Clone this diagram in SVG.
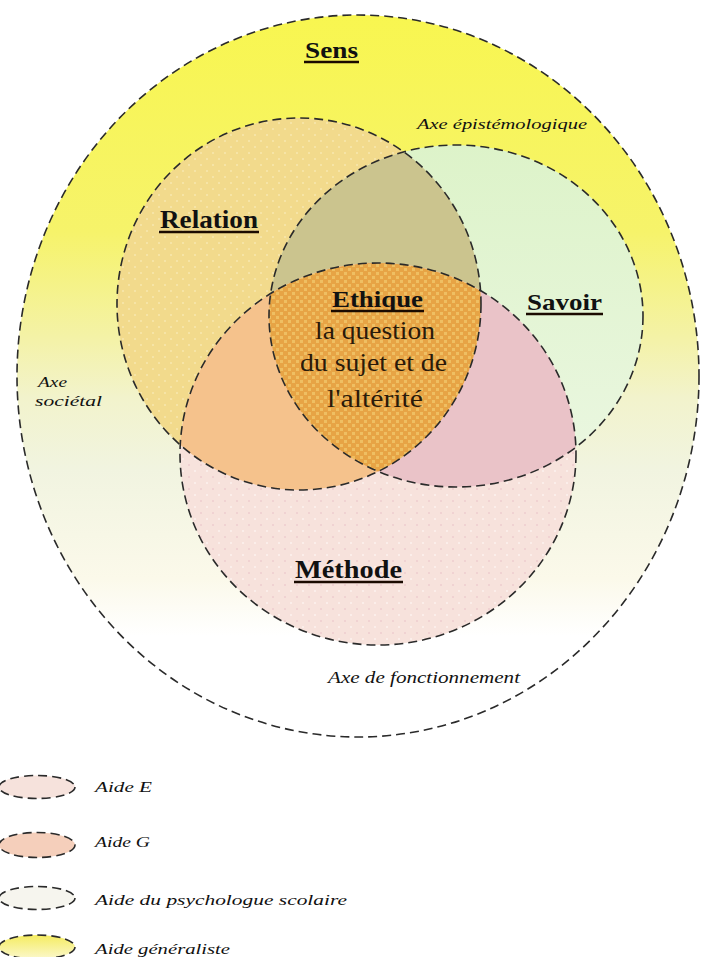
<svg xmlns="http://www.w3.org/2000/svg" width="702" height="957" viewBox="0 0 702 957">
<style>
  .ring{fill:none;stroke:#2a2a2a;stroke-width:1.6;stroke-dasharray:9 5}
  .lbl{font-weight:bold;fill:#111}
  .eth{fill:#2a1a0a}
  .axe{font-style:italic;fill:#111}
  .ul{stroke:#1a0a00;stroke-width:2.6}
</style>
<defs>
  <linearGradient id="gOuter" x1="0" y1="15" x2="0" y2="737" gradientUnits="userSpaceOnUse">
    <stop offset="0" stop-color="#f8f650"/>
    <stop offset="0.3" stop-color="#f6f36a"/>
    <stop offset="0.45" stop-color="#f4f2a8"/>
    <stop offset="0.53" stop-color="#f2f3cc"/>
    <stop offset="0.63" stop-color="#f1f4e0"/>
    <stop offset="0.78" stop-color="#fbf9ea"/>
    <stop offset="0.86" stop-color="#ffffff"/>
    <stop offset="1" stop-color="#ffffff"/>
  </linearGradient>
  <linearGradient id="gSavoir" x1="0" y1="145" x2="0" y2="487" gradientUnits="userSpaceOnUse">
    <stop offset="0" stop-color="#ddf3c9"/>
    <stop offset="1" stop-color="#ebf7e2"/>
  </linearGradient>
  <linearGradient id="gLegY" x1="0" y1="935" x2="0" y2="959" gradientUnits="userSpaceOnUse">
    <stop offset="0" stop-color="#f5ec60"/>
    <stop offset="1" stop-color="#fbf8cc"/>
  </linearGradient>
  <pattern id="pEth" width="8" height="8" patternUnits="userSpaceOnUse">
    <rect width="8" height="8" fill="#e7a445"/>
    <rect x="0" y="0" width="3" height="3" fill="#efbf62"/>
    <rect x="4" y="4" width="3" height="3" fill="#efbf62"/>
  </pattern>
  <pattern id="pRel" width="12" height="12" patternUnits="userSpaceOnUse">
    <rect width="12" height="12" fill="#f2da8c"/>
    <rect x="2" y="2" width="2" height="2" fill="#f6e4a6"/>
    <rect x="8" y="8" width="2" height="2" fill="#f6e4a6"/>
  </pattern>
  <pattern id="pMet" width="12" height="12" patternUnits="userSpaceOnUse">
    <rect width="12" height="12" fill="#f7e2dc"/>
    <rect x="2" y="2" width="2" height="2" fill="#fbeeea"/>
    <rect x="8" y="8" width="2" height="2" fill="#f0d2d2"/>
  </pattern>
  <clipPath id="cR"><ellipse cx="299" cy="304" rx="182" ry="186"/></clipPath>
  <clipPath id="cS"><ellipse cx="456" cy="316" rx="187" ry="171"/></clipPath>
</defs>

<rect width="702" height="957" fill="#ffffff"/>

<g id="node-sens">
  <ellipse cx="358" cy="376" rx="341" ry="361" fill="url(#gOuter)"/>
</g>

<g id="node-relation">
  <ellipse cx="299" cy="304" rx="182" ry="186" fill="url(#pRel)"/>
</g>
<g id="node-savoir">
  <ellipse cx="456" cy="316" rx="187" ry="171" fill="url(#gSavoir)"/>
  <ellipse cx="456" cy="316" rx="187" ry="171" fill="#cbc48e" clip-path="url(#cR)"/>
</g>
<g id="node-methode">
  <ellipse cx="378" cy="454" rx="198" ry="191" fill="url(#pMet)"/>
  <ellipse cx="378" cy="454" rx="198" ry="191" fill="#f5c28c" clip-path="url(#cR)"/>
  <ellipse cx="378" cy="454" rx="198" ry="191" fill="#eac3c8" clip-path="url(#cS)"/>
</g>
<g id="node-ethique">
  <g clip-path="url(#cS)">
    <ellipse cx="378" cy="454" rx="198" ry="191" fill="url(#pEth)" clip-path="url(#cR)"/>
  </g>
</g>

<g id="outlines">
  <ellipse class="ring" cx="358" cy="376" rx="341" ry="361"/>
  <ellipse class="ring" cx="299" cy="304" rx="182" ry="186"/>
  <ellipse class="ring" cx="456" cy="316" rx="187" ry="171"/>
  <ellipse class="ring" cx="378" cy="454" rx="198" ry="191"/>
</g>

<g id="connectors"></g>

<g id="labels" font-family="Liberation Serif, Times New Roman, serif">
  <text class="lbl" x="305" y="58" font-size="24" textLength="53" lengthAdjust="spacingAndGlyphs">Sens</text>
  <line class="ul" x1="304" y1="62" x2="359" y2="62"/>
  <text class="lbl" x="160" y="228" font-size="25" textLength="98" lengthAdjust="spacingAndGlyphs">Relation</text>
  <line class="ul" x1="159" y1="232" x2="259" y2="232"/>
  <text class="lbl" x="527" y="310" font-size="24" textLength="75" lengthAdjust="spacingAndGlyphs">Savoir</text>
  <line class="ul" x1="526" y1="314" x2="603" y2="314"/>
  <text class="lbl" x="295" y="578" font-size="25" textLength="107" lengthAdjust="spacingAndGlyphs">Méthode</text>
  <line class="ul" x1="294" y1="582" x2="403" y2="582"/>

  <text class="lbl" x="332" y="307" font-size="24" textLength="91" lengthAdjust="spacingAndGlyphs" fill="#2a1a0a">Ethique</text>
  <line class="ul" x1="331" y1="311" x2="424" y2="311"/>
  <text class="eth" x="315" y="339" font-size="25" textLength="120" lengthAdjust="spacingAndGlyphs">la question</text>
  <text class="eth" x="300" y="371" font-size="25" textLength="147" lengthAdjust="spacingAndGlyphs">du sujet et de</text>
  <text class="eth" x="327" y="407" font-size="25" textLength="96" lengthAdjust="spacingAndGlyphs">l'altérité</text>

  <text class="axe" x="417" y="129" font-size="15" textLength="170" lengthAdjust="spacingAndGlyphs">Axe épistémologique</text>
  <text class="axe" x="38" y="387" font-size="14" textLength="29" lengthAdjust="spacingAndGlyphs">Axe</text>
  <text class="axe" x="35" y="406" font-size="14" textLength="67" lengthAdjust="spacingAndGlyphs">sociétal</text>
  <text class="axe" x="328" y="683" font-size="16" textLength="192" lengthAdjust="spacingAndGlyphs">Axe de fonctionnement</text>
</g>

<g id="legend" font-family="Liberation Serif, Times New Roman, serif">
  <g id="legend-aide-e">
    <ellipse cx="37" cy="787" rx="38" ry="11.5" fill="#f6e2dc"/>
    <ellipse class="ring" cx="37" cy="787" rx="38" ry="11.5"/>
    <text class="axe" x="95" y="792" font-size="15" textLength="57" lengthAdjust="spacingAndGlyphs">Aide E</text>
  </g>
  <g id="legend-aide-g">
    <ellipse cx="37" cy="845" rx="38" ry="12.5" fill="#f5cfbb"/>
    <ellipse class="ring" cx="37" cy="845" rx="38" ry="12.5"/>
    <text class="axe" x="95" y="847" font-size="15" textLength="55" lengthAdjust="spacingAndGlyphs">Aide G</text>
  </g>
  <g id="legend-psy">
    <ellipse cx="37" cy="898" rx="38" ry="11.5" fill="#f6f5ee"/>
    <ellipse class="ring" cx="37" cy="898" rx="38" ry="11.5"/>
    <text class="axe" x="95" y="905" font-size="15" textLength="252" lengthAdjust="spacingAndGlyphs">Aide du psychologue scolaire</text>
  </g>
  <g id="legend-generaliste">
    <ellipse cx="37" cy="947" rx="38" ry="12" fill="url(#gLegY)"/>
    <ellipse class="ring" cx="37" cy="947" rx="38" ry="12"/>
    <text class="axe" x="95" y="954" font-size="15" textLength="135" lengthAdjust="spacingAndGlyphs">Aide généraliste</text>
  </g>
</g>
</svg>
